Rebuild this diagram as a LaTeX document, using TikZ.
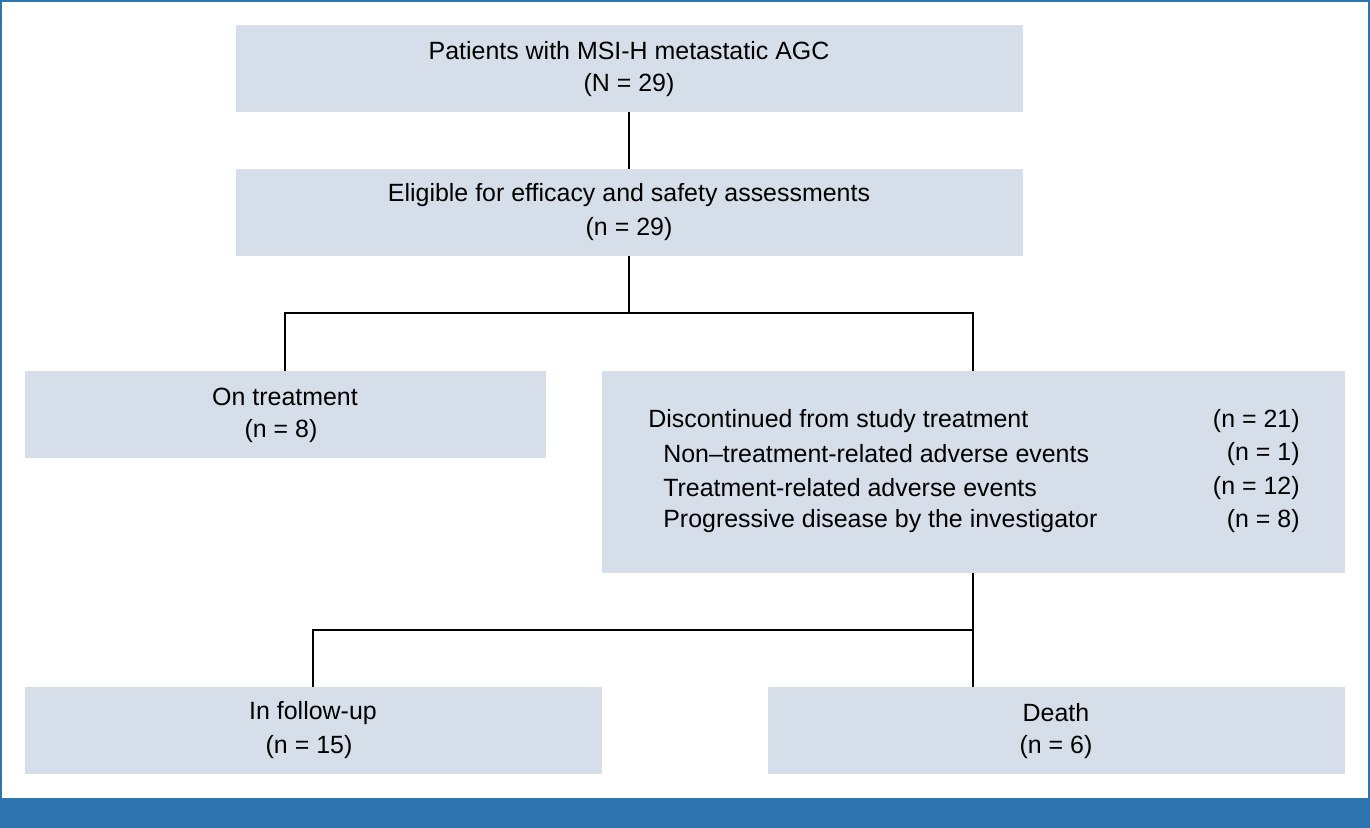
\documentclass[tikz,border=0pt]{standalone}
\usepackage{fontspec}
\setmainfont{Liberation Sans}
\definecolor{boxc}{HTML}{D6DEEA}
\definecolor{bandc}{HTML}{2E75B0}
\begin{document}
\begin{tikzpicture}[x=0.02cm,y=-0.02cm,
  box/.style={fill=boxc,draw=none},
  txt/.style={font=\fontsize{14.2}{17}\selectfont,inner sep=0pt,align=center},
  ln/.style={line width=1.6pt,black}]
\useasboundingbox (0,0) rectangle (1370,828);
\fill[white] (0,0) rectangle (1370,828);
\draw[bandc,line width=1.2pt] (1,1) rectangle (1369,827);
\fill[bandc] (0,798) rectangle (1370,828);
% boxes
\fill[box] (236,25) rectangle (1023,112);
\fill[box] (236,169) rectangle (1023,256);
\fill[box] (25,371) rectangle (546,458);
\fill[box] (602,371) rectangle (1345,573);
\fill[box] (25,687) rectangle (602,774);
\fill[box] (768,687) rectangle (1345,774);
% texts
\node[txt] (a) at (629,51) {Patients with MSI-H metastatic AGC};
\node[txt] (a2) at (629,85) {(N = 29)};
\node[txt] (b) at (629,195) {Eligible for efficacy and safety assessments};
\node[txt] (b2) at (629,229) {(n = 29)};
\node[txt] (c) at (285,397) {On treatment};
\node[txt] (c2) at (281,431) {(n = 8)};
\node[txt,anchor=west] (d1) at (648,421) {Discontinued from study treatment};
\node[txt,anchor=west] (d2) at (663,454) {Non--treatment-related adverse events};
\node[txt,anchor=west] (d3) at (663,488) {Treatment-related adverse events};
\node[txt,anchor=west] (d4) at (663,521) {Progressive disease by the investigator};
\node[txt,anchor=east] (e1) at (1300,421) {(n = 21)};
\node[txt,anchor=east] (e2) at (1300,454) {(n = 1)};
\node[txt,anchor=east] (e3) at (1300,488) {(n = 12)};
\node[txt,anchor=east] (e4) at (1300,521) {(n = 8)};
\node[txt] (f) at (313,713) {In follow-up};
\node[txt] (f2) at (309,747) {(n = 15)};
\node[txt] (g) at (1056,713) {Death};
\node[txt] (g2) at (1056,747) {(n = 6)};
% connectors
\coordinate (j1) at (629,313);
\coordinate (j2) at (973,630);
\draw[ln] (629,112) -- (629,169);
\draw[ln] (629,256) -- (j1);
\draw[ln] (285,371) -- (285,313) -- (973,313) -- (973,371);
\draw[ln] (973,573) -- (973,687);
\draw[ln] (j2) -- (313,630) -- (313,687);
\end{tikzpicture}
\end{document}
